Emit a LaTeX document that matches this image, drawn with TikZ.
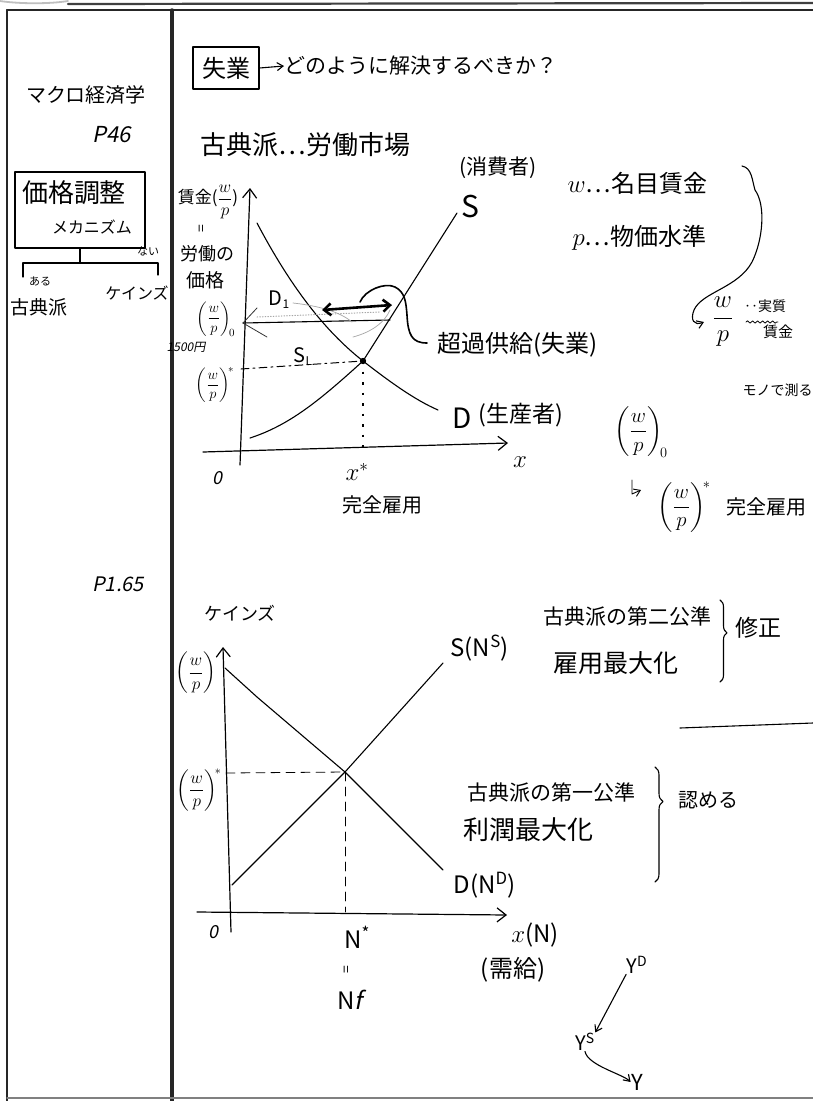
\documentclass[tikz,border=0pt]{standalone}
\usepackage{amsmath}
\usepackage{fontspec}
\setmainfont{Noto Sans CJK JP}
\newfontfamily\jpsl[FakeSlant=0.2]{Noto Sans CJK JP}
\usetikzlibrary{arrows.meta,decorations.pathreplacing,decorations.pathmorphing,calc}
\newcommand{\fs}[1]{\fontsize{#1}{#1}\selectfont}
\newcommand{\WoP}{\biggl(\dfrac{w}{p}\biggr)}
\begin{document}
\begin{tikzpicture}[x=1pt,y=-1pt,line width=1.1pt,line cap=round,line join=round,
  lbl/.style={inner sep=0pt},
  axis/.style={line width=1.2pt,-{Straight Barb[length=9pt,width=14pt]}},
  tip/.style={-{Straight Barb[length=6pt,width=8pt]}},
  frame/.style={line width=2pt,black!85},
  dsh/.style={line width=0.8pt,dash pattern=on 9pt off 6pt},
  faint/.style={line width=0.7pt,gray!70}]
\useasboundingbox (0,0) rectangle (813,1101);
\fill[white] (0,0) rectangle (813,1101);
% ---------- frame ----------
\draw[line width=1.8pt,gray!50] (0,1) .. controls (20,4) and (50,4) .. (68,1);
\draw[line width=2.2pt,black!75] (68,4) -- (813,3);
\draw[frame] (7,10) -- (813,10);
\draw[frame] (7,10) -- (7,1101);
\draw[line width=3.5pt,black!85] (172,10) -- (172,1101);
\draw[line width=1.5pt,gray] (7,1098) -- (813,1098);
% ---------- left column ----------
\node[lbl,font=\fs{20}] (macro) at (86,95) {マクロ経済学};
\node[lbl,font=\jpsl\fs{22}] (p46) at (112,135) {P46};
\node[draw,line width=1.1pt,minimum width=130pt,minimum height=76pt,inner sep=0pt] (mech) at (80,210) {};
\node[lbl,font=\fs{26}] (kakaku) at (74,193) {価格調整};
\node[lbl,font=\fs{16}] (mekani) at (92,227) {メカニズム};
\coordinate (tj) at (80,263);
\draw (mech.south) -- (tj);
\draw (23,277) -- (23,263) -- (158,263) -- (158,275);
\node[lbl,font=\fs{11}] (nai) at (148,251) {ない};
\node[lbl,font=\fs{11}] (aru) at (40,281) {ある};
\node[lbl,font=\fs{19}] (kotenL) at (39,307) {古典派};
\node[lbl,font=\fs{16}] (keynesL) at (137,293) {ケインズ};
\node[lbl,font=\jpsl\fs{20}] (p165) at (118,584) {P1.65};
% ---------- top ----------
\node[draw,line width=1.1pt,minimum width=66pt,minimum height=42pt,inner sep=0pt,font=\fs{24}] (shitsu) at (226,68) {失業};
\node[lbl,anchor=west,font=\fs{21}] (q) at (284,66) {どのように解決するべきか？};
\draw[tip] (shitsu.east) -- (q.west);
\node[lbl,anchor=west,font=\fs{26}] (koten) at (200,145) {古典派…労働市場};
\node[lbl,font=\fs{21}] (shohi) at (498,168) {(消費者)};
\node[lbl,font=\fs{30}] (Slab) at (470,207) {S};
\node[lbl,anchor=west,font=\fs{24}] (wdef) at (567,183) {$w$…名目賃金};
\node[lbl,anchor=west,font=\fs{24}] (pdef) at (572,238) {$p$…物価水準};
% brace-arrow to real wage
\node[lbl,font=\fs{26}] (wpr) at (723,322) {$\dfrac{w}{p}$};
\node[lbl,font=\fs{14}] (jitsu) at (765,306) {‥実質};
\node[lbl,font=\fs{15}] (chin) at (778,332) {賃金};
\draw[line width=0.8pt,decorate,decoration={snake,amplitude=1.2pt,segment length=5pt}] (746,322) -- (778,322);
\draw[tip] (742,166) .. controls (752,168) and (752,180) .. (755,190)
   .. controls (766,205) and (763,240) .. (752,262)
   .. controls (738,288) and (702,292) .. (694,310)
   .. controls (690,320) and (694,326) .. (704,322);
\node[lbl,anchor=west,font=\fs{14}] (mono) at (742,390) {モノで測る};
\node[lbl,font=\fs{22}] (wp0r) at (641,432) {$\WoP_{\!0}$};
\node[lbl,font=\fs{20}] (wpsr) at (684,507) {$\WoP^{\!*}$};
\node[lbl,anchor=west,font=\fs{20}] (kanzenR) at (726,507) {完全雇用};
\draw[tip,line width=0.9pt] (632,480) -- (632,494) -- (641,490);
% ---------- graph 1 ----------
\coordinate (E1) at (363,361);
\draw[axis] (240,465) -- (250,188);
\draw[axis] (203,452) -- (508,443);
\draw (257,223) .. controls (295,295) and (330,335) .. (E1) .. controls (390,382) and (415,400) .. (438,410);
\draw (E1) -- (457,213);
\draw (E1) .. controls (320,400) and (290,425) .. (250,438);
\fill (E1) circle (3.2pt);
\draw[line width=2.6pt,dash pattern=on 2.5pt off 8pt,line cap=butt] (E1) -- (363,448);
\draw[line width=1pt,dash pattern=on 8pt off 4pt on 2pt off 4pt] (241,369) -- (E1);
\coordinate (w0) at (243,323);
\draw (390,320) -- (w0);
\draw[line width=0.8pt,black!80] (257,308) -- (w0) -- (267,337);
\draw[faint,dotted,line width=1pt] (257,317) -- (380,312);
\draw[faint] (293,303) .. controls (320,306) and (340,312) .. (352,322);
\draw[faint] (390,310) .. controls (385,322) and (372,332) .. (353,337);
\draw[line width=2.6pt,{Straight Barb[length=7pt,width=12pt]}-{Straight Barb[length=7pt,width=12pt]}] (322,310) -- (392,305);
\draw[line width=1.6pt] (360,302) .. controls (365,290) and (385,282) .. (395,287)
   .. controls (405,292) and (406,302) .. (407,315)
   .. controls (408,335) and (412,343) .. (427,343);
\node[lbl,anchor=west,font=\fs{24}] (chouka) at (437,345) {超過供給(失業)};
\node[lbl,font=\fs{28}] (Dlab) at (462,418) {D};
\node[lbl,anchor=west,font=\fs{23}] (seisan) at (478,415) {(生産者)};
\node[lbl,font=\jpsl\fs{18}] (o1) at (217,478) {0};
\node[lbl,font=\fs{24}] (x1) at (520,462) {$x$};
\node[lbl,font=\fs{24}] (xs) at (357,472) {$x^{*}$};
\node[lbl,font=\fs{20}] (kanzen) at (382,505) {完全雇用};
\node[lbl,font=\fs{17}] (chingin) at (208,202) {賃金($\dfrac{w}{p}$)};
\node[lbl,rotate=90,font=\fs{14}] (eq1) at (203,229) {=};
\node[lbl,font=\fs{18}] (roudou) at (207,254) {労働の};
\node[lbl,font=\fs{19}] (kakakuy) at (205,280) {価格};
\node[lbl,font=\fs{15}] (wp0) at (216,319) {$\WoP_{\!0}$};
\node[lbl,font=\jpsl\fs{12}] (yen) at (186,347) {1500円};
\node[lbl,font=\fs{15}] (wps) at (215,385) {$\WoP^{\!*}$};
\node[lbl,font=\fs{20}] (D1) at (279,300) {D\raisebox{-3pt}{\fs{12}1}};
\node[lbl,font=\fs{20}] (SL) at (303,357) {S\raisebox{-3pt}{\fs{12}L}};
% ---------- graph 2 ----------
\node[lbl,font=\fs{18}] (keynes2) at (240,613) {ケインズ};
\coordinate (E2) at (345,772);
\draw[axis] (231,932) -- (223,647);
\draw[axis] (197,912) -- (507,915);
\draw (225,668) -- (257,697) -- (E2) -- (443,870);
\draw (232,885) -- (E2) -- (443,663);
\draw[dsh] (226,773) -- (E2);
\draw[dsh] (E2) -- (345,912);
\node[lbl,font=\jpsl\fs{18}] (o2) at (213,932) {0};
\node[lbl,font=\fs{18}] (wpa) at (196,673) {$\WoP$};
\node[lbl,font=\fs{18}] (wpb) at (199,790) {$\WoP^{\!*}$};
\node[lbl,anchor=west,font=\fs{24}] (SN) at (450,648) {S(N\textsuperscript{S})};
\node[lbl,anchor=west,font=\fs{24}] (DN) at (453,885) {D(N\textsuperscript{D})};
\node[lbl,anchor=west,font=\fs{21}] (dai2) at (543,617) {古典派の第二公準};
\node[lbl,anchor=west,font=\fs{25}] (koyou) at (553,663) {雇用最大化};
\draw[decorate,decoration={brace,amplitude=7pt,aspect=0.4}] (720,600) -- (720,682);
\node[lbl,anchor=west,font=\fs{23}] (shusei) at (735,628) {修正};
\draw (680,728) -- (813,723);
\node[lbl,anchor=west,font=\fs{21}] (dai1) at (467,793) {古典派の第一公準};
\node[lbl,anchor=west,font=\fs{26}] (rijun) at (463,830) {利潤最大化};
\draw[decorate,decoration={brace,amplitude=8pt,aspect=0.3}] (655,767) -- (655,882);
\node[lbl,anchor=west,font=\fs{20}] (mitome) at (678,800) {認める};
\node[lbl,font=\fs{24}] (Ns) at (357,937) {N\textsuperscript{*}};
\node[lbl,rotate=90,font=\fs{14}] (eq2) at (348,970) {=};
\node[lbl,font=\fs{24}] (Nf) at (350,1000) {N{\jpsl f}};
\node[lbl,font=\fs{24}] (xN) at (535,935) {$x$(N)};
\node[lbl,font=\fs{24}] (jukyu) at (513,970) {(需給)};
\node[lbl,font=\fs{20}] (YD) at (637,965) {Y\textsuperscript{D}};
\node[lbl,font=\fs{20}] (YS) at (585,1042) {Y\textsuperscript{S}};
\node[lbl,font=\fs{22}] (Y) at (637,1082) {Y};
\draw[tip] (YD.south west) -- (YS.north east);
\draw[tip] (YS.south) .. controls ++(3,14) and ++(-8,-8) .. (Y.west);
\end{tikzpicture}
\end{document}
